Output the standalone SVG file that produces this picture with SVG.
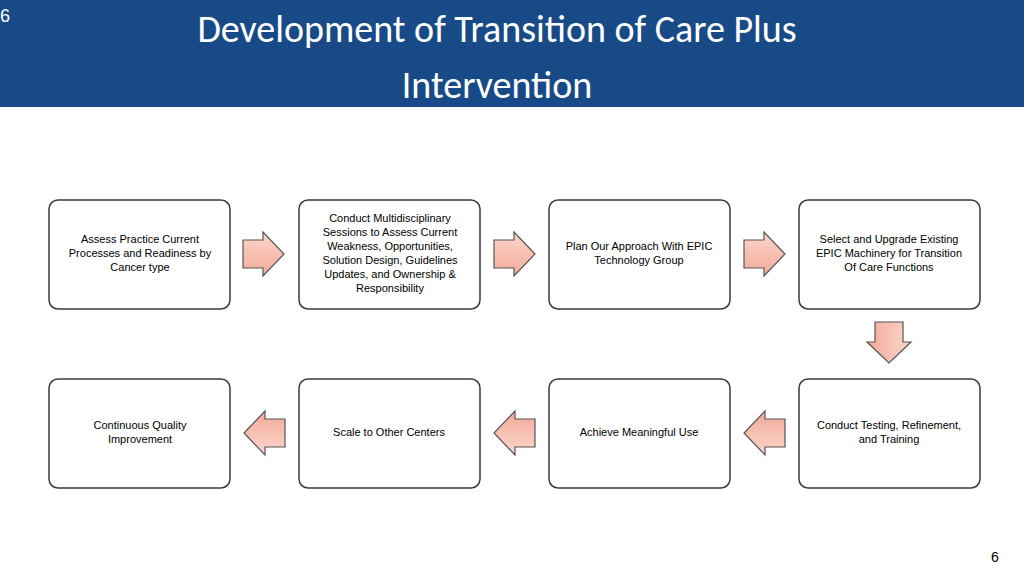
<svg xmlns="http://www.w3.org/2000/svg" width="1024" height="576" viewBox="0 0 1024 576">
<style>
.b{fill:#fff;stroke:#3a3a3a;stroke-width:1.5}
.t{font-family:"Liberation Sans",Arial,sans-serif;font-size:11px;fill:#000;text-anchor:middle}
.a{fill:#f6beae;stroke:#555;stroke-width:1.2}
</style>
<defs>
<linearGradient id="g" x1="0" y1="0" x2="0" y2="1"><stop offset="0" stop-color="#fbd6cb"/><stop offset="1" stop-color="#f2aa98"/></linearGradient>
<path id="ar" d="M-20,-14 H0 V-22 L21,0 L0,22 V14 H-20 Z"/>
</defs>
<rect width="1024" height="576" fill="#fff"/>
<rect width="1024" height="107" fill="#174a86"/>
<text x="0" y="22" font-family="Liberation Sans,Arial,sans-serif" font-size="18" fill="#fff">6</text>
<text x="497" y="42" font-family="Calibri,Carlito,'Open Sans',sans-serif" font-size="38" fill="#fff" text-anchor="middle">Development of Transition of Care Plus</text>
<text x="497" y="98" font-family="Calibri,Carlito,'Open Sans',sans-serif" font-size="38" fill="#fff" text-anchor="middle">Intervention</text>
<text x="995" y="562" font-family="Liberation Sans,Arial,sans-serif" font-size="14" fill="#000" text-anchor="middle">6</text>
<g id="n1"><rect class="b" x="49" y="200" width="181" height="109" rx="9"/><text class="t"><tspan x="140" y="243">Assess Practice Current</tspan><tspan x="140" y="257">Processes and Readiness by</tspan><tspan x="140" y="271">Cancer type</tspan></text></g>
<g id="n2"><rect class="b" x="299" y="200" width="181" height="109" rx="9"/><text class="t"><tspan x="390" y="222">Conduct Multidisciplinary</tspan><tspan x="390" y="236">Sessions to Assess Current</tspan><tspan x="390" y="250">Weakness, Opportunities,</tspan><tspan x="390" y="264">Solution Design, Guidelines</tspan><tspan x="390" y="278">Updates, and Ownership &amp;</tspan><tspan x="390" y="292">Responsibility</tspan></text></g>
<g id="n3"><rect class="b" x="549" y="200" width="181" height="109" rx="9"/><text class="t"><tspan x="639" y="250">Plan Our Approach With EPIC</tspan><tspan x="639" y="264">Technology Group</tspan></text></g>
<g id="n4"><rect class="b" x="799" y="200" width="181" height="109" rx="9"/><text class="t"><tspan x="889" y="243">Select and Upgrade Existing</tspan><tspan x="889" y="257">EPIC Machinery for Transition</tspan><tspan x="889" y="271">Of Care Functions</tspan></text></g>
<g id="n5"><rect class="b" x="799" y="379" width="181" height="109" rx="9"/><text class="t"><tspan x="889" y="429">Conduct Testing, Refinement,</tspan><tspan x="889" y="443">and Training</tspan></text></g>
<g id="n6"><rect class="b" x="549" y="379" width="181" height="109" rx="9"/><text class="t"><tspan x="639" y="436">Achieve Meaningful Use</tspan></text></g>
<g id="n7"><rect class="b" x="299" y="379" width="181" height="109" rx="9"/><text class="t"><tspan x="389" y="436">Scale to Other Centers</tspan></text></g>
<g id="n8"><rect class="b" x="49" y="379" width="181" height="109" rx="9"/><text class="t"><tspan x="140" y="429">Continuous  Quality</tspan><tspan x="140" y="443">Improvement</tspan></text></g>
<g id="connectors" fill="url(#g)" stroke="#555" stroke-width="1.2">
<use href="#ar" transform="translate(263,254)"/>
<use href="#ar" transform="translate(514,254)"/>
<use href="#ar" transform="translate(764,254)"/>
<use href="#ar" transform="translate(889,342) rotate(90)"/>
<use href="#ar" transform="translate(765,433) rotate(180)"/>
<use href="#ar" transform="translate(515,433) rotate(180)"/>
<use href="#ar" transform="translate(265,433) rotate(180)"/>
</g>
</svg>
